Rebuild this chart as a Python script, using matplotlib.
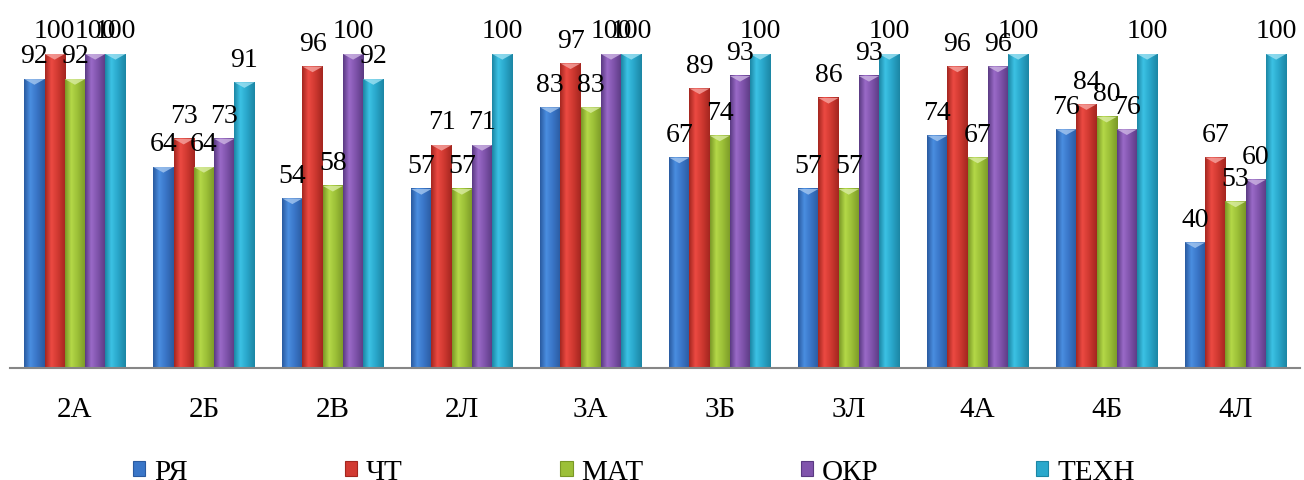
import matplotlib
matplotlib.use('Agg')
import numpy as np
import matplotlib.pyplot as plt
from matplotlib.colors import LinearSegmentedColormap, to_rgb
from matplotlib.patches import Polygon, Patch

plt.rcParams['font.family'] = ['Liberation Serif', 'DejaVu Serif']

classes = ['2А', '2Б', '2В', '2Л', '3А', '3Б', '3Л', '4А', '4Б', '4Л']
subjects = ['РЯ', 'ЧТ', 'МАТ', 'ОКР', 'ТЕХН']
rya = [92, 64, 54, 57, 83, 67, 57, 74, 76, 40]
cht = [100, 73, 96, 71, 97, 89, 86, 96, 84, 67]
mat = [92, 64, 58, 57, 83, 74, 57, 67, 80, 53]
okr = [100, 73, 100, 71, 100, 93, 93, 96, 76, 60]
tehn = [100, 91, 92, 100, 100, 100, 100, 100, 100, 100]
series = [rya, cht, mat, okr, tehn]

# dark edge, light, mid colours for each series
shades = [
    ('#2a5aa0', '#4a8ee0', '#3a76c8'),
    ('#a3261f', '#ec4a42', '#d23a32'),
    ('#7a9826', '#b4d848', '#9cc038'),
    ('#5a3a82', '#9a6ac8', '#8054ac'),
    ('#1c86a4', '#3cc2e4', '#2aa8cc'),
]

fig = plt.figure(figsize=(13.04, 4.81), dpi=100)
ax = fig.add_axes([0.008, 0.2328, 0.989, 0.6529])

x = np.arange(len(classes))
w = 0.157
grad = np.linspace(0, 1, 64).reshape(1, -1)
for i, vals in enumerate(series):
    dark, light, mid = shades[i]
    cmap = LinearSegmentedColormap.from_list('g%d' % i,
        [(0, dark), (0.3, light), (0.6, mid), (1, dark)])
    bars = ax.bar(x + (i - 2) * w, vals, w, color=mid, linewidth=0, zorder=2)
    tip = tuple(0.5 * np.array(to_rgb(light)) + 0.5)
    for b, v in zip(bars, vals):
        bx, bw, bh = b.get_x(), b.get_width(), b.get_height()
        ax.imshow(grad, cmap=cmap, extent=[bx, bx + bw, 0, bh],
                  aspect='auto', zorder=3, interpolation='bilinear')
        ax.add_patch(Polygon([(bx, bh), (bx + bw, bh), (bx + bw / 2, bh - 1.8)],
                             closed=True, color=tip, alpha=0.8, lw=0, zorder=4))
        ax.annotate(str(v), (bx + bw / 2, bh), xytext=(0, 12),
                    textcoords='offset points', ha='center', va='baseline',
                    fontsize=20, annotation_clip=False, zorder=5)

ax.set_xlim(-0.5, len(classes) - 0.5)
ax.set_ylim(0, 100)
ax.set_xticks(x)
ax.set_xticklabels(classes, fontsize=21)
ax.tick_params(axis='x', length=0, pad=20)
ax.set_yticks([])
for s in ['left', 'right', 'top']:
    ax.spines[s].set_visible(False)
ax.spines['bottom'].set_color('#868686')
ax.spines['bottom'].set_linewidth(1.5)
ax.spines['bottom'].set_zorder(6)

handles = [Patch(facecolor=shades[i][2], edgecolor=shades[i][0], linewidth=0.8)
           for i in range(5)]
fig.legend(handles, subjects, loc='center', bbox_to_anchor=(0.486, 0.0166),
           ncol=5, frameon=False, fontsize=21, handlelength=0.42,
           handleheight=0.45, handletextpad=0.3, columnspacing=5.4,
           borderpad=0, borderaxespad=0)

fig.savefig('out.png', dpi=100)
